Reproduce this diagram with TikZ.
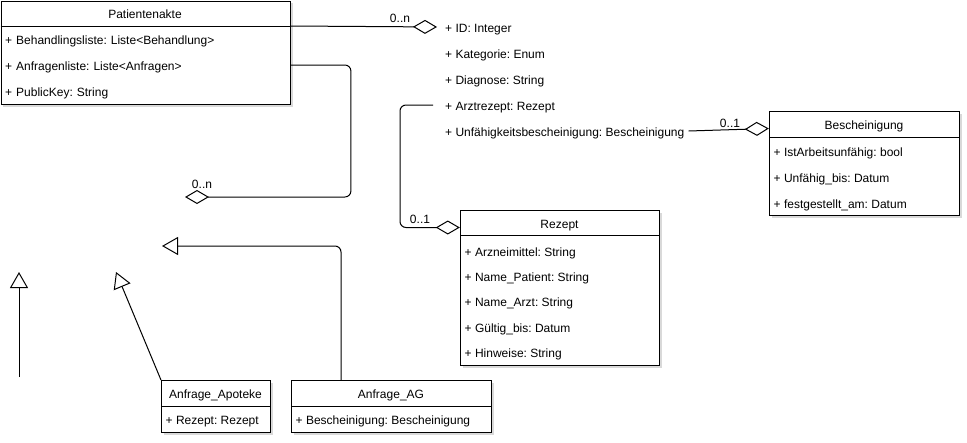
\documentclass[tikz,border=0pt]{standalone}
\usepackage{fontspec}
\setmainfont{Liberation Sans}
\frenchspacing
\usetikzlibrary{arrows.meta,shadows}
\begin{document}
\begin{tikzpicture}[x=1pt,y=-1pt,
  txt/.style={font=\fontsize{12}{14}\selectfont, text height=10pt, text depth=0pt},
  cls/.style={draw=black, line width=1pt, fill=white, anchor=north west, inner sep=0pt,
    drop shadow={shadow xshift=2pt, shadow yshift=-2pt, opacity=0.3}},
  ttl/.style={txt, inner sep=0pt},
  row/.style={txt, anchor=west, inner xsep=4.5pt, inner ysep=0pt, align=left},
  brow/.style={txt, anchor=west, inner xsep=4pt, inner ysep=0pt},
  lbl/.style={txt, inner sep=0pt},
  div/.style={line width=1pt},
  conn/.style={line width=1pt, rounded corners=6pt},
  agg/.style={conn, -{Diamond[open, length=24pt, width=14pt]}},
  gen/.style={conn, -{Triangle[open, length=16pt, width=18pt]}},
]
\useasboundingbox (0,0) rectangle (967,442);

% ---------- Patientenakte ----------
\node[cls, minimum width=289.5pt, minimum height=103.5pt] (pa) at (0.5,0.5) {};
\node[ttl] (paT) at (145,13) {Patientenakte};
\draw[div] (0.5,26) -- (290,26);
\node[row, text width=281pt] (pa1) at (0.5,39) {+ Behandlingsliste: Liste<Behandlung>};
\node[row, text width=281pt] (pa2) at (0.5,65) {+ Anfragenliste: Liste<Anfragen>};
\node[row, text width=281pt] (pa3) at (0.5,91) {+ PublicKey: String};
\coordinate (paHd) at (290.5,26);

% ---------- Behandlung attributes (no box) ----------
\node[brow] (bID)   at (441,27)  {+ ID: Integer};
\node[brow] (bKat)  at (441,53)  {+ Kategorie: Enum};
\node[brow] (bDia)  at (441,79)  {+ Diagnose: String};
\node[brow] (bArzt) at (441,105) {+ Arztrezept: Rezept};
\node[brow] (bUnf)  at (441,131) {+ Unfähigkeitsbescheinigung: Bescheinigung};

% ---------- Bescheinigung ----------
\node[cls, minimum width=190pt, minimum height=104pt] (bs) at (769,111) {};
\node[ttl, minimum width=190pt, minimum height=26pt] (bsT) at (864,124) {Bescheinigung};
\draw[div] (769,137) -- (959,137);
\node[row] (bs1) at (769,151) {+ IstArbeitsunfähig: bool};
\node[row] (bs2) at (769,177) {+ Unfähig\_bis: Datum};
\node[row] (bs3) at (769,203) {+ festgestellt\_am: Datum};

% ---------- Rezept ----------
\node[cls, minimum width=199pt, minimum height=155pt] (rz) at (460,210) {};
\node[ttl, minimum width=199pt, minimum height=25pt] (rzT) at (559.5,223) {Rezept};
\draw[div] (460,235) -- (659,235);
\node[row] (rz1) at (460,251) {+ Arzneimittel: String};
\node[row] (rz2) at (460,276) {+ Name\_Patient: String};
\node[row] (rz3) at (460,301) {+ Name\_Arzt: String};
\node[row] (rz4) at (460,327) {+ Gültig\_bis: Datum};
\node[row] (rz5) at (460,352) {+ Hinweise: String};

% ---------- Anfrage_Apoteke ----------
\node[cls, minimum width=109pt, minimum height=52pt] (ap) at (161,380) {};
\node[ttl] (apT) at (215.5,393) {Anfrage\_Apoteke};
\draw[div] (161,406) -- (270,406);
\node[row] (ap1) at (161,419) {+ Rezept: Rezept};

% ---------- Anfrage_AG ----------
\node[cls, minimum width=200pt, minimum height=52pt] (ag) at (291,380) {};
\node[ttl] (agT) at (391,393) {Anfrage\_AG};
\draw[div] (291,406) -- (491,406);
\node[row] (ag1) at (291,419) {+ Bescheinigung: Bescheinigung};

% ---------- free ends ----------
\coordinate (dAnf) at (185,197);
\coordinate (g1a) at (19,377);
\coordinate (g1b) at (19,272);
\coordinate (g2b) at (116,272);
\coordinate (g3b) at (162,246);

% ---------- aggregations ----------
\draw[agg, shorten >=4pt] (paHd) -- (bID.west);
\node[lbl] (l1) at (400,17) {0..n};

\draw[agg] (pa2.east) -- ++(60,0) |- (dAnf);
\node[lbl] (l2) at (202,183) {0..n};

\draw[agg, shorten <=8pt] (bArzt.west) -- ++(-41,0) |- ([yshift=-4.5pt]rzT.west);
\node[lbl] (l3) at (420,218) {0..1};

\draw[agg] (bUnf.east) -- ([yshift=-4.5pt]bsT.west);
\node[lbl] (l4) at (730,122) {0..1};

% ---------- generalizations ----------
\draw[gen] (g1a) -- (g1b);
\draw[gen] (ap.north west) -- (g2b);
\draw[gen] ([xshift=50pt]ag.north west) |- (g3b);
\end{tikzpicture}
\end{document}
